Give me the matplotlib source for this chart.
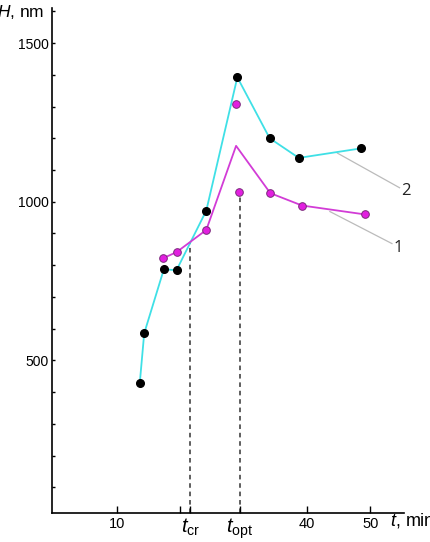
import matplotlib
matplotlib.use("Agg")
import matplotlib.pyplot as plt
from matplotlib.ticker import MultipleLocator

plt.rcParams['font.family'] = ['Liberation Sans', 'DejaVu Sans']
plt.rcParams['mathtext.fontset'] = 'custom'
plt.rcParams['mathtext.rm'] = 'Liberation Sans'
plt.rcParams['mathtext.it'] = 'Liberation Sans:italic'

# Series 2 (cyan line, black points)
t2 = [13.6, 14.3, 17.4, 19.4, 24.1, 29.0, 34.1, 38.7, 48.5]
h2 = [428, 585, 787, 784, 972, 1392, 1200, 1138, 1168]

# Series 1 (magenta line)
t1_line = [17.3, 19.4, 24.1, 28.8, 34.2, 39.2, 49.1]
h1_line = [822, 841, 911, 1176, 1027, 988, 960]
# Series 1 points
t1_pts = [17.3, 19.4, 24.1, 28.8, 29.3, 34.2, 39.2, 49.1]
h1_pts = [822, 841, 911, 1307, 1032, 1027, 988, 960]

t_cr = 21.6
h_cr = 873
t_opt = 29.4
h_opt = 1020

x_ticks = [10, 21.6, 29.4, 40, 50]
x_ticklabels = ['10', r'$t_{\rm cr}$', r'$t_{\rm opt}$', '40', '50']
x_minor_ticks = [20]

fig = plt.figure(figsize=(4.30, 5.42), dpi=100)
ax = fig.add_axes([0.1202, 0.0541, 0.8193, 0.9309])

cyan = '#3fe0e6'
magenta = '#d23cd6'

ax.plot(t2, h2, color=cyan, lw=1.3, zorder=2)
ax.plot(t1_line, h1_line, color=magenta, lw=1.3, zorder=2)
ax.plot(t2, h2, 'o', color='black', ms=5.5, zorder=4)
ax.plot(t1_pts, h1_pts, 'o', mfc='#e21fe0', mec='#7a2a7a', mew=0.7, ms=5.5, zorder=4)

ax.plot([t_cr, t_cr], [20, h_cr], ls=(0, (3, 2.5)), color='#333333', lw=1.1, zorder=1)
ax.plot([t_opt, t_opt], [20, h_opt], ls=(0, (3, 2.5)), color='#333333', lw=1.1, zorder=1)

# leader lines
ax.plot([44.8, 54.6], [1153, 1044], color='#bbbbbb', lw=0.9, zorder=1)
ax.plot([43.6, 53.4], [969, 868], color='#bbbbbb', lw=0.9, zorder=1)
ax.text(54.9, 1034, '2', fontsize=12, family='Open Sans', va='center', ha='left', color='#222222')
ax.text(53.7, 855, '1', fontsize=12, family='Open Sans', va='center', ha='left', color='#222222')

ax.set_xlim(-0.3, 55.3)
ax.set_ylim(20, 1610)

ax.spines['top'].set_visible(False)
ax.spines['right'].set_visible(False)
ax.spines['left'].set_linewidth(1.2)
ax.spines['bottom'].set_linewidth(1.2)

ax.yaxis.set_major_locator(MultipleLocator(500))
ax.yaxis.set_minor_locator(MultipleLocator(100))
ax.set_yticks([500, 1000, 1500])
ax.set_yticklabels(['500', '1000', '1500'])
ax.tick_params(axis='y', which='both', direction='in', length=2.5, width=1, labelsize=10, pad=2)

ax.set_xticks(x_ticks)
ax.set_xticklabels(x_ticklabels)
ax.set_xticks(x_minor_ticks, minor=True)
ax.tick_params(axis='x', which='both', direction='in', length=5, width=1, labelsize=10.5, pad=3)
for lbl in ax.get_xticklabels():
    if lbl.get_text().startswith('$'):
        lbl.set_fontsize(14.5)

fig.text(-0.008, 0.978, r'$H$, nm', fontsize=12.5, ha='left', va='center')
fig.text(0.908, 0.04, r'$t$, min', fontsize=13, ha='left', va='center')

fig.savefig('out.png', dpi=100)
